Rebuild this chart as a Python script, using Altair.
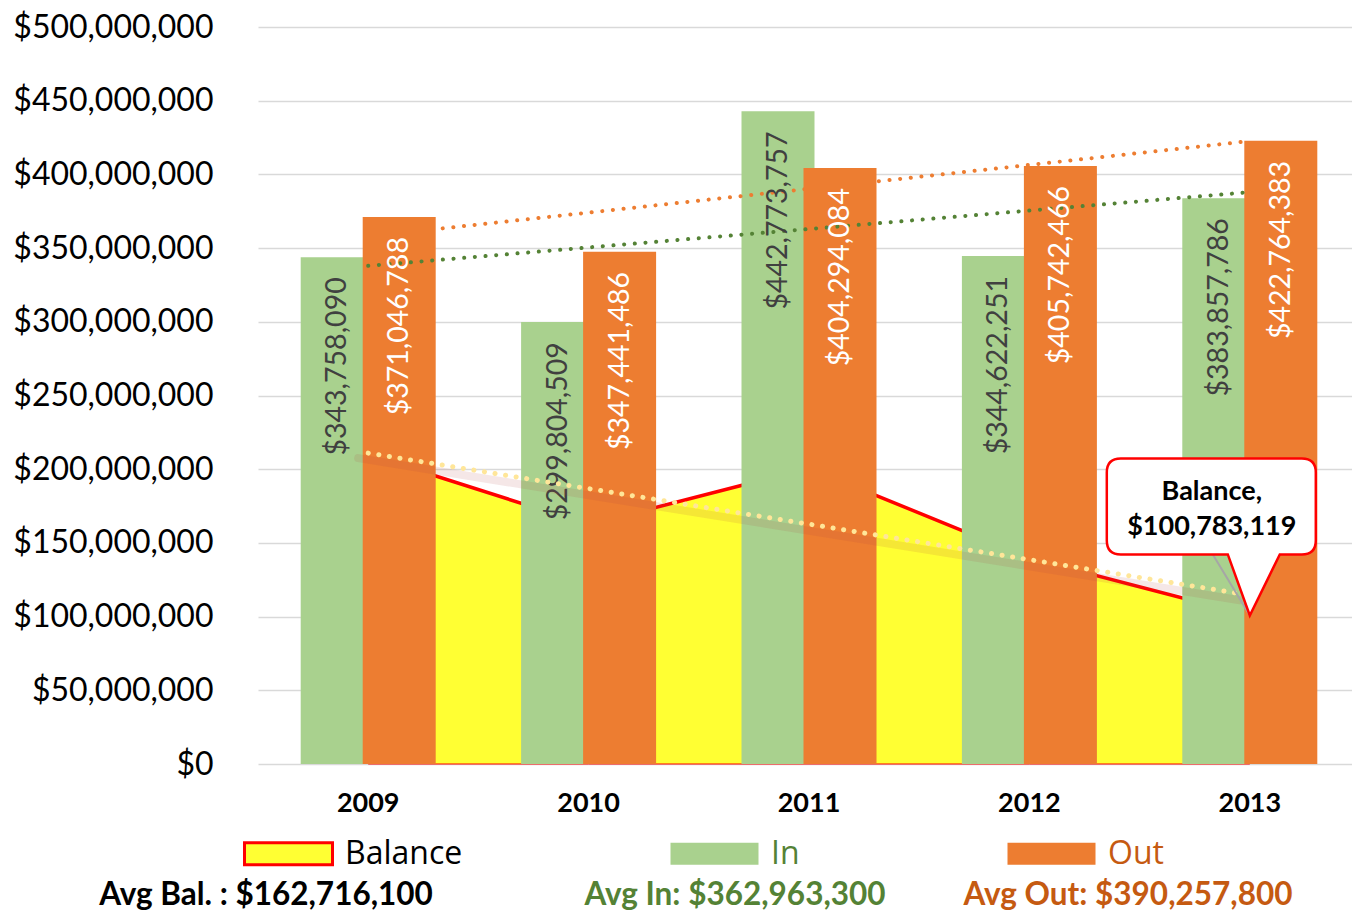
import altair as alt
import pandas as pd

# ---------------- data ----------------
years = [2009, 2010, 2011, 2012, 2013]
in_values = [343758090, 299804509, 442773757, 344622251, 383857786]
out_values = [371046788, 347441486, 404294084, 405742466, 422764383]
balance_values = [209967235, 162330258, 200809931, 139689716, 100783119]
series_names = ["Balance", "In", "Out"]
avg_prefixes = ["Avg Bal. : ", "Avg In: ", "Avg Out: "]
y_ticks = [0, 50000000, 100000000, 150000000, 200000000, 250000000,
           300000000, 350000000, 400000000, 450000000, 500000000]

# ---------------- styles ----------------
FILL = ["#FFFF33", "#A9D18E", "#ED7D31"]
STROKE = ["#FF0000", "transparent", "transparent"]
TEXT_COLORS = ["#000000", "#548235", "#C55A11"]
FONT = "Lato"
LEG_FONT = "Open Sans"

rows = []
for i, yr in enumerate(years):
    rows.append({"year": yr, "series": "Balance", "value": balance_values[i]})
    rows.append({"year": yr, "series": "In", "value": in_values[i]})
    rows.append({"year": yr, "series": "Out", "value": out_values[i]})
df = pd.DataFrame(rows)
base = alt.Chart(df)

x_enc = alt.X("year:O", title=None,
              scale=alt.Scale(paddingInner=0, paddingOuter=0, range=[0, 1102]),
              axis=alt.Axis(labelAngle=0, labelFont=FONT, labelFontSize=27,
                            labelFontWeight="bold", labelColor="#000000",
                            labelPadding=26, ticks=False, domain=False, grid=False))
y_enc = alt.Y("value:Q", title=None, stack=None,
              scale=alt.Scale(domain=[0, 500000000], nice=False),
              axis=alt.Axis(values=y_ticks, format="$,.0f", labelFont=FONT,
                            labelFontSize=32, labelColor="#000000", labelPadding=45,
                            labelLimit=400, ticks=False, domain=False, grid=True,
                            gridColor="#D9D9D9", gridWidth=1.6))

legend = alt.Legend(
    orient="none", legendX=-15, legendY=781, direction="horizontal", title=None,
    symbolType="M-1,-0.25H1V0.25H-1Z", symbolSize=7744, symbolStrokeWidth=3,
    symbolOpacity=1,
    labelFont=LEG_FONT, labelFontSize=32, labelOffset=11, columnPadding=201, padding=0,
    labelLimit=400,
    labelColor={"expr": "datum.label == 'In' ? '%s' : datum.label == 'Out' ? '%s' : '%s'"
                % (TEXT_COLORS[1], TEXT_COLORS[2], TEXT_COLORS[0])},
)
fill_enc = alt.Fill("series:N", scale=alt.Scale(domain=series_names, range=FILL), legend=legend)
stroke_enc = alt.Stroke("series:N", scale=alt.Scale(domain=series_names, range=STROKE), legend=legend)

is_bal = "datum.series == 'Balance'"
is_in = "datum.series == 'In'"
is_out = "datum.series == 'Out'"

area = base.transform_filter(is_bal).mark_area(strokeWidth=1, opacity=1).encode(
    x=x_enc, y=y_enc, fill=fill_enc, stroke=stroke_enc)
bal_line = base.transform_filter(is_bal).mark_line(color="#FF0000", strokeWidth=3.5).encode(
    x=x_enc, y=y_enc)

in_bars = base.transform_filter(is_in).mark_bar(width=73, xOffset=-31).encode(
    x=x_enc, y=y_enc, fill=alt.Fill("series:N"))
out_bars = base.transform_filter(is_out).mark_bar(width=73, xOffset=31).encode(
    x=x_enc, y=y_enc, fill=alt.Fill("series:N"))

dots = dict(strokeDash=[0.1, 10.6], strokeCap="round")
out_trend = base.transform_filter(is_out).transform_regression("year", "value").mark_line(
    color="#ED7D31", strokeWidth=4, **dots).encode(x=x_enc, y=y_enc)
in_trend = base.transform_filter(is_in).transform_regression("year", "value").mark_line(
    color="#548235", strokeWidth=4, **dots).encode(x=x_enc, y=y_enc)

in_labels = base.transform_filter(is_in).mark_text(
    angle=270, align="right", baseline="middle", dx=-20, xOffset=-31,
    font=FONT, fontSize=28.5, color="#404040").encode(
    x=x_enc, y=y_enc, text=alt.Text("value:Q", format="$,.0f"))
out_labels = base.transform_filter(is_out).mark_text(
    angle=270, align="right", baseline="middle", dx=-20, xOffset=31,
    font=FONT, fontSize=28.5, color="#FFFFFF").encode(
    x=x_enc, y=y_enc, text=alt.Text("value:Q", format="$,.0f"))

bal_trend_shadow = base.transform_filter(is_bal).transform_regression("year", "value").mark_line(
    color="#B04848", strokeWidth=8, opacity=0.13, yOffset=5, xOffset=-10, strokeCap="round").encode(
    x=x_enc, y=y_enc)
bal_trend = base.transform_filter(is_bal).transform_regression("year", "value").mark_line(
    color="#FFE699", strokeWidth=5, **dots).encode(x=x_enc, y=y_enc)

last_bal = base.transform_filter("datum.series == 'Balance' && datum.year == 2013")
leader = last_bal.mark_point(shape="M0,0L-0.40,-0.66", size=40000, filled=False,
                             stroke="#A6A6A6", strokeWidth=2, opacity=1).encode(x=x_enc, y=y_enc)
CALLOUT = ("M-1.29,-1.57L0.52,-1.57Q0.66,-1.57 0.66,-1.43L0.66,-0.75Q0.66,-0.61 0.52,-0.61"
           "L0.30,-0.61L0,0L-0.22,-0.61L-1.29,-0.61Q-1.43,-0.61 -1.43,-0.75L-1.43,-1.43"
           "Q-1.43,-1.57 -1.29,-1.57Z")
callout = last_bal.mark_point(shape=CALLOUT, size=40000, filled=True, fill="#FFFFFF",
                              stroke="#FF0000", strokeWidth=2.5, opacity=1).encode(x=x_enc, y=y_enc)
callout_t1 = last_bal.transform_calculate(lbl="datum.series + ','").mark_text(
    font=FONT, fontSize=27, fontWeight="bold", color="#000000", dx=-38, dy=-123).encode(
    x=x_enc, y=y_enc, text="lbl:N")
callout_t2 = last_bal.transform_calculate(lbl="'$' + format(datum.value, ',')").mark_text(
    font=FONT, fontSize=27, fontWeight="bold", color="#000000", dx=-38, dy=-88).encode(
    x=x_enc, y=y_enc, text="lbl:N")

avg_base = base.transform_aggregate(avg="mean(value)", groupby=["series"]).transform_calculate(
    rounded="round(datum.avg / 100) * 100")
avg_x = [8, 477, 870]
avg_layers = []
for i, s in enumerate(series_names):
    avg_layers.append(
        avg_base.transform_filter("datum.series == '%s'" % s)
        .transform_calculate(lbl="'%s$' + format(datum.rounded, ',')" % avg_prefixes[i])
        .mark_text(font=FONT, fontSize=31.5, fontWeight="bold", color=TEXT_COLORS[i],
                   align="center", baseline="middle")
        .encode(x=alt.value(avg_x[i]), y=alt.value(869), text="lbl:N")
    )

chart = alt.layer(
    area, bal_line, in_bars, out_trend, out_bars, in_trend, in_labels, out_labels,
    bal_trend_shadow, bal_trend, leader, callout, callout_t1, callout_t2, *avg_layers
).properties(
    width=1094, height=737,
    autosize=alt.AutoSizeParams(type="none"),
    padding={"left": 250, "top": 19, "right": 0, "bottom": 148},
).configure_view(stroke=None)

chart.save("out.html", embed_options={"renderer": "svg", "actions": False})
